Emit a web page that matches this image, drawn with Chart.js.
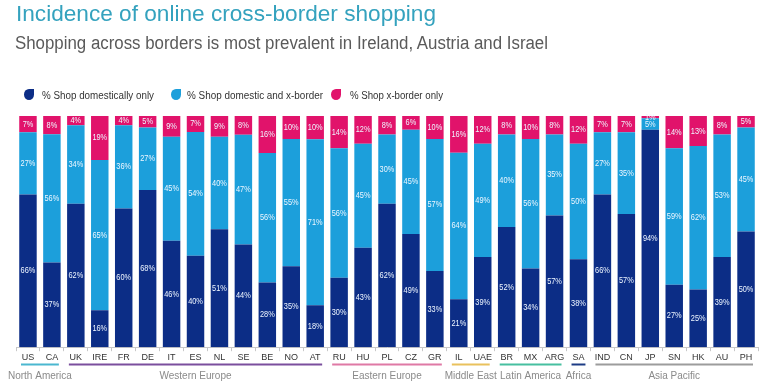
<!DOCTYPE html>
<html>
<head>
<meta charset="utf-8">
<script src="https://cdn.jsdelivr.net/npm/chart.js@4"></script>
<style>
  body { margin: 0; background: #fff; width: 768px; height: 390px; overflow: hidden; position: relative;
         font-family: "Liberation Sans", Arial, sans-serif; }
  canvas { position: absolute; left: 0; top: 0; }
  .txt { position: absolute; white-space: nowrap; line-height: 1; transform-origin: 0 0; }
  #title { left: 16px; top: 3px; font-size: 22px; color: #34a2be; }
  #subtitle { left: 15px; top: 34px; font-size: 18px; color: #5a5a5a; }
  .legText { font-size: 10px; color: #333; top: 91px; }
  .legMark { position: absolute; width: 10px; height: 11px; top: 89px; border-radius: 50% 0 50% 50%; }
</style>
</head>
<body>
<canvas id="chart" width="768" height="390"></canvas>
<div id="title" class="txt">Incidence of online cross-border shopping</div>
<div id="subtitle" class="txt">Shopping across borders is most prevalent in Ireland, Austria and Israel</div>
<div id="legend"></div>

<script>
// Datos
const countries = ["US","CA","UK","IRE","FR","DE","IT","ES","NL","SE","BE","NO","AT","RU","HU","PL","CZ","GR","IL","UAE","BR","MX","ARG","SA","IND","CN","JP","SN","HK","AU","PH"];
const domesticOnly = [66,37,62,16,60,68,46,40,51,44,28,35,18,30,43,62,49,33,21,39,52,34,57,38,66,57,94,27,25,39,50];
const domesticAndX = [27,56,34,65,36,27,45,54,40,47,56,55,71,56,45,30,45,57,64,49,40,56,35,50,27,35,5,59,62,53,45];
const xBorderOnly  = [7,8,4,19,4,5,9,7,9,8,16,10,10,14,12,8,6,10,16,12,8,10,8,12,7,7,1,14,13,8,5];
const seriesNames = ["% Shop domestically only", "% Shop domestic and x-border", "% Shop x-border only"];
const groupNames = ["North America","Western Europe","Eastern Europe","Middle East","Latin America","Africa","Asia Pacific"];
const groupSizes = [2, 11, 5, 2, 3, 1, 7];

// Estilos
const seriesColors = ["#0c2d86", "#1c9fdb", "#e1136b"];
const groupColors = ["#4bb7d0", "#7b4f9d", "#df79a5", "#e9c15d", "#47bfa0", "#1d3c85", "#9c9c9c"];

// Ajustar texto HTML a un ancho dado
function fitWidth(el, w) {
  const cur = el.getBoundingClientRect().width;
  el.style.transform = `scaleX(${w / cur})`;
}
fitWidth(document.getElementById("title"), 420);
fitWidth(document.getElementById("subtitle"), 533);

// Leyenda
const legendEl = document.getElementById("legend");
const legMarkX = [24, 171, 331];
const legTextX = [42, 187, 350];
const legTextW = [112, 136, 93];
seriesNames.forEach((name, i) => {
  const m = document.createElement("div");
  m.className = "legMark";
  m.style.left = legMarkX[i] + "px";
  m.style.background = seriesColors[i];
  legendEl.appendChild(m);
  const t = document.createElement("div");
  t.className = "txt legText";
  t.style.left = legTextX[i] + "px";
  t.textContent = name;
  legendEl.appendChild(t);
  fitWidth(t, legTextW[i]);
});

// Normalizar a 100% (las etiquetas muestran el valor original)
const raw = [domesticOnly, domesticAndX, xBorderOnly];
const totals = countries.map((_, j) => raw.reduce((s, arr) => s + arr[j], 0));
const shares = raw.map(arr => arr.map((v, j) => v / totals[j] * 100));

// Etiquetas de valores dentro de cada segmento
const valueLabels = {
  id: "valueLabels",
  afterDatasetsDraw(chart) {
    const ctx = chart.ctx;
    ctx.save();
    ctx.font = '9px "Liberation Sans", Arial, sans-serif';
    ctx.fillStyle = "#eef6ff";
    ctx.textAlign = "center";
    ctx.textBaseline = "middle";
    chart.data.datasets.forEach((ds, i) => {
      chart.getDatasetMeta(i).data.forEach((bar, j) => {
        const p = bar.getProps(["x", "y", "base"], true);
        const cy = (p.y + p.base) / 2;
        ctx.save();
        ctx.translate(p.x, cy);
        ctx.scale(0.82, 1);
        ctx.fillText(raw[i][j] + "%", 0, 0);
        ctx.restore();
      });
    });
    ctx.restore();
  }
};

// Líneas y nombres de regiones bajo el eje
const regionGroups = {
  id: "regionGroups",
  afterDraw(chart) {
    const ctx = chart.ctx;
    const xs = chart.scales.x;
    const half = (xs.getPixelForValue(1) - xs.getPixelForValue(0)) / 2;
    let start = 0;
    ctx.save();
    groupNames.forEach((name, g) => {
      const end = start + groupSizes[g] - 1;
      const left = xs.getPixelForValue(start) - half + 5;
      const right = xs.getPixelForValue(end) + half - 5;
      ctx.strokeStyle = groupColors[g];
      ctx.lineWidth = 2;
      ctx.beginPath();
      ctx.moveTo(left, 364.5);
      ctx.lineTo(right, 364.5);
      ctx.stroke();
      ctx.fillStyle = "#8a8a8a";
      ctx.font = '10px "Liberation Sans", Arial, sans-serif';
      ctx.textAlign = "center";
      ctx.textBaseline = "alphabetic";
      ctx.fillText(name, (left + right) / 2, 378.5);
      start = end + 1;
    });
    ctx.restore();
  }
};

new Chart(document.getElementById("chart").getContext("2d"), {
  type: "bar",
  data: {
    labels: countries,
    datasets: seriesNames.map((name, i) => ({
      label: name,
      data: shares[i],
      backgroundColor: seriesColors[i],
      borderWidth: 0
    }))
  },
  options: {
    responsive: false,
    animation: false,
    layout: { padding: { left: 16, right: 10, top: 116, bottom: 26 } },
    datasets: { bar: { barPercentage: 0.73, categoryPercentage: 1 } },
    plugins: { legend: { display: false }, title: { display: false }, tooltip: { enabled: false } },
    scales: {
      x: {
        stacked: true,
        grid: { display: true, drawOnChartArea: false, tickLength: 4, color: "#c8c8c8", offset: true },
        border: { color: "#c8c8c8" },
        ticks: { color: "#333", font: { size: 9, family: '"Liberation Sans", Arial, sans-serif' }, padding: 1, maxRotation: 0, autoSkip: false }
      },
      y: { stacked: true, display: false, min: 0, max: 100 }
    }
  },
  plugins: [valueLabels, regionGroups]
});
</script>
</body>
</html>
